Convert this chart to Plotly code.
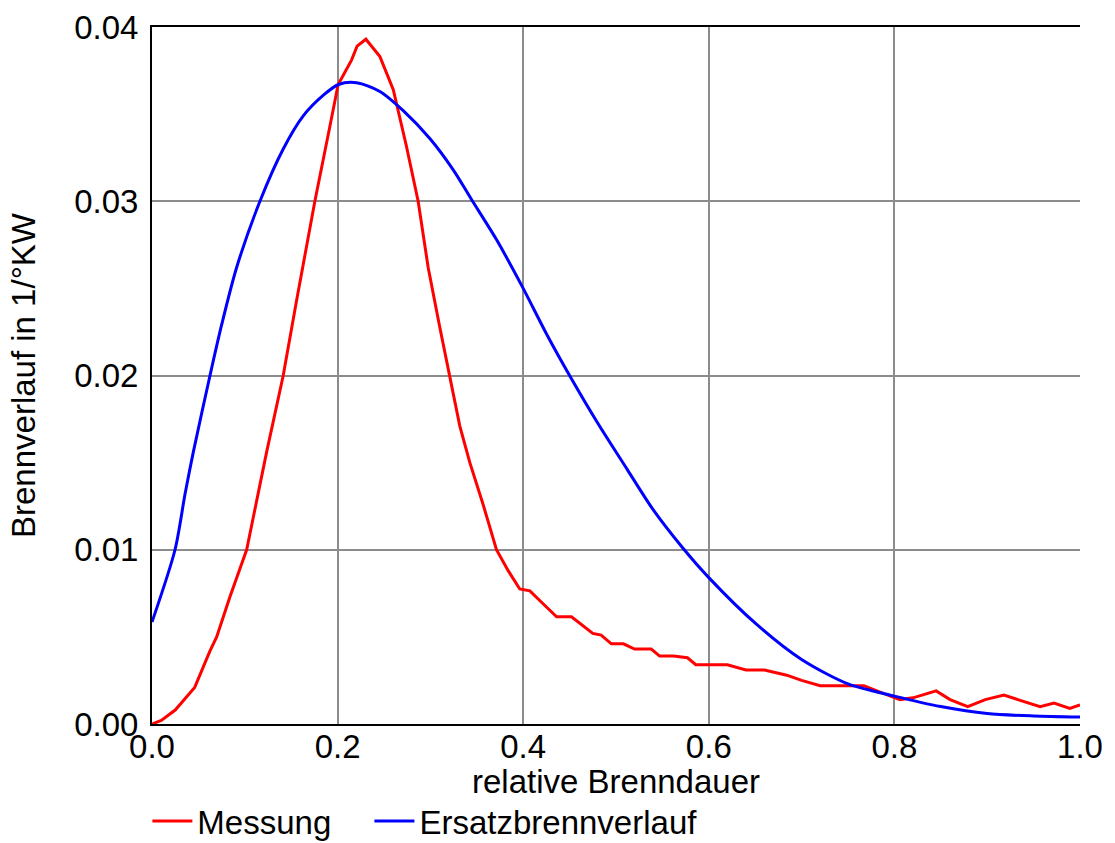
import plotly.graph_objects as go

# Gemessener Brennverlauf (Messung)
mess_x = [0.0, 0.01, 0.025, 0.046, 0.0625, 0.0697, 0.084, 0.102, 0.1235, 0.1414,
          0.1558, 0.1755, 0.1917, 0.2006, 0.215, 0.221, 0.2305, 0.2456, 0.26,
          0.274, 0.2868, 0.2976, 0.31, 0.321, 0.3317, 0.3425, 0.3568, 0.3712,
          0.3838, 0.3963, 0.4072, 0.4214, 0.436, 0.452, 0.475, 0.484, 0.495,
          0.508, 0.52, 0.538, 0.547, 0.562, 0.577, 0.586, 0.62, 0.64, 0.66,
          0.684, 0.70, 0.72, 0.767, 0.786, 0.806, 0.82, 0.845, 0.86, 0.879,
          0.898, 0.918, 0.933, 0.957, 0.972, 0.989, 1.0]
mess_y = [0.0, 0.0002, 0.0008, 0.0021, 0.0042, 0.0050, 0.0073, 0.0100, 0.0156,
          0.0200, 0.0243, 0.0300, 0.0343, 0.0367, 0.0381, 0.0389, 0.0393, 0.0383,
          0.0364, 0.0332, 0.0300, 0.0262, 0.0228, 0.0200, 0.0171, 0.0150, 0.0126,
          0.0100, 0.0088, 0.00775, 0.00764, 0.0069, 0.00615, 0.00615, 0.0052,
          0.0051, 0.0046, 0.0046, 0.0043, 0.0043, 0.0039, 0.0039, 0.0038, 0.0034,
          0.0034, 0.0031, 0.0031, 0.0028, 0.0025, 0.0022, 0.0022, 0.0018, 0.0014,
          0.0015, 0.0019, 0.0014, 0.0010, 0.0014, 0.00166, 0.0014, 0.0010, 0.0012,
          0.0009, 0.0011]

# Ersatzbrennverlauf
ers_x = [0.0, 0.0248, 0.0356, 0.0445, 0.0625, 0.075, 0.0912, 0.1163, 0.1414,
         0.163, 0.185, 0.201, 0.2205, 0.2456, 0.2707, 0.2994, 0.3246, 0.3443,
         0.3712, 0.399, 0.425, 0.450, 0.4799, 0.5122, 0.54, 0.572, 0.6, 0.651,
         0.7, 0.75, 0.8, 0.85, 0.9, 0.95, 1.0]
ers_y = [0.00585, 0.0100, 0.0132, 0.0156, 0.0200, 0.0229, 0.0262, 0.0300, 0.0330,
         0.0349, 0.0361, 0.0367, 0.0368, 0.0363, 0.0352, 0.0336, 0.0318, 0.0301,
         0.0278, 0.0251, 0.0224, 0.0200, 0.0173, 0.0146, 0.0123, 0.0101, 0.0084,
         0.00574, 0.0037, 0.0023, 0.0016, 0.0010, 0.0006, 0.00046, 0.0004]

x_ticks = [0.0, 0.2, 0.4, 0.6, 0.8, 1.0]
y_ticks = [0.0, 0.01, 0.02, 0.03, 0.04]

x_title = "relative Brenndauer"
y_title = "Brennverlauf in 1/°KW"

FONT = "Liberation Sans, Arial, sans-serif"
FS = 33

fig = go.Figure()
fig.add_trace(go.Scatter(x=mess_x, y=mess_y, mode="lines", name="Messung",
                         legend="legend",
                         line=dict(color="#ff0000", width=3)))
fig.add_trace(go.Scatter(x=ers_x, y=ers_y, mode="lines", name="Ersatzbrennverlauf",
                         legend="legend2",
                         line=dict(color="#0000ff", width=3, shape="spline", smoothing=0.8)))

legend_style = dict(orientation="h", xanchor="left", yanchor="top", y=-0.099,
                    font=dict(size=FS), bgcolor="rgba(0,0,0,0)",
                    itemwidth=40, itemclick=False)

fig.update_layout(
    width=1115, height=843,
    margin=dict(l=152, r=35, t=27, b=119, autoexpand=False),
    paper_bgcolor="white", plot_bgcolor="white",
    font=dict(family=FONT, size=FS, color="black"),
    showlegend=True,
    legend=dict(x=-0.005, **legend_style),
    legend2=dict(x=0.2343, **legend_style),
)
# x-axis title placed as a paper annotation just under the tick labels
fig.add_annotation(text=x_title, xref="paper", yref="paper", x=0.5, y=-0.082,
                   xanchor="center", yanchor="middle", showarrow=False,
                   font=dict(size=FS, color="black"))

fig.update_xaxes(
    range=[0, 1], tickvals=x_ticks, tickformat=".1f",
    showgrid=True, gridcolor="#8c8c8c", gridwidth=2,
    showline=True, linecolor="black", linewidth=2, mirror=True,
    ticks="", ticklabelstandoff=-8, zeroline=False,
)
fig.update_yaxes(
    range=[0, 0.04], tickvals=y_ticks, tickformat=".2f",
    showgrid=True, gridcolor="#8c8c8c", gridwidth=2,
    showline=True, linecolor="black", linewidth=2,
    ticks="", ticklabelstandoff=5, zeroline=False,
    title=dict(text=y_title, standoff=29, font=dict(size=FS)),
)

fig.write_html("out.html")
